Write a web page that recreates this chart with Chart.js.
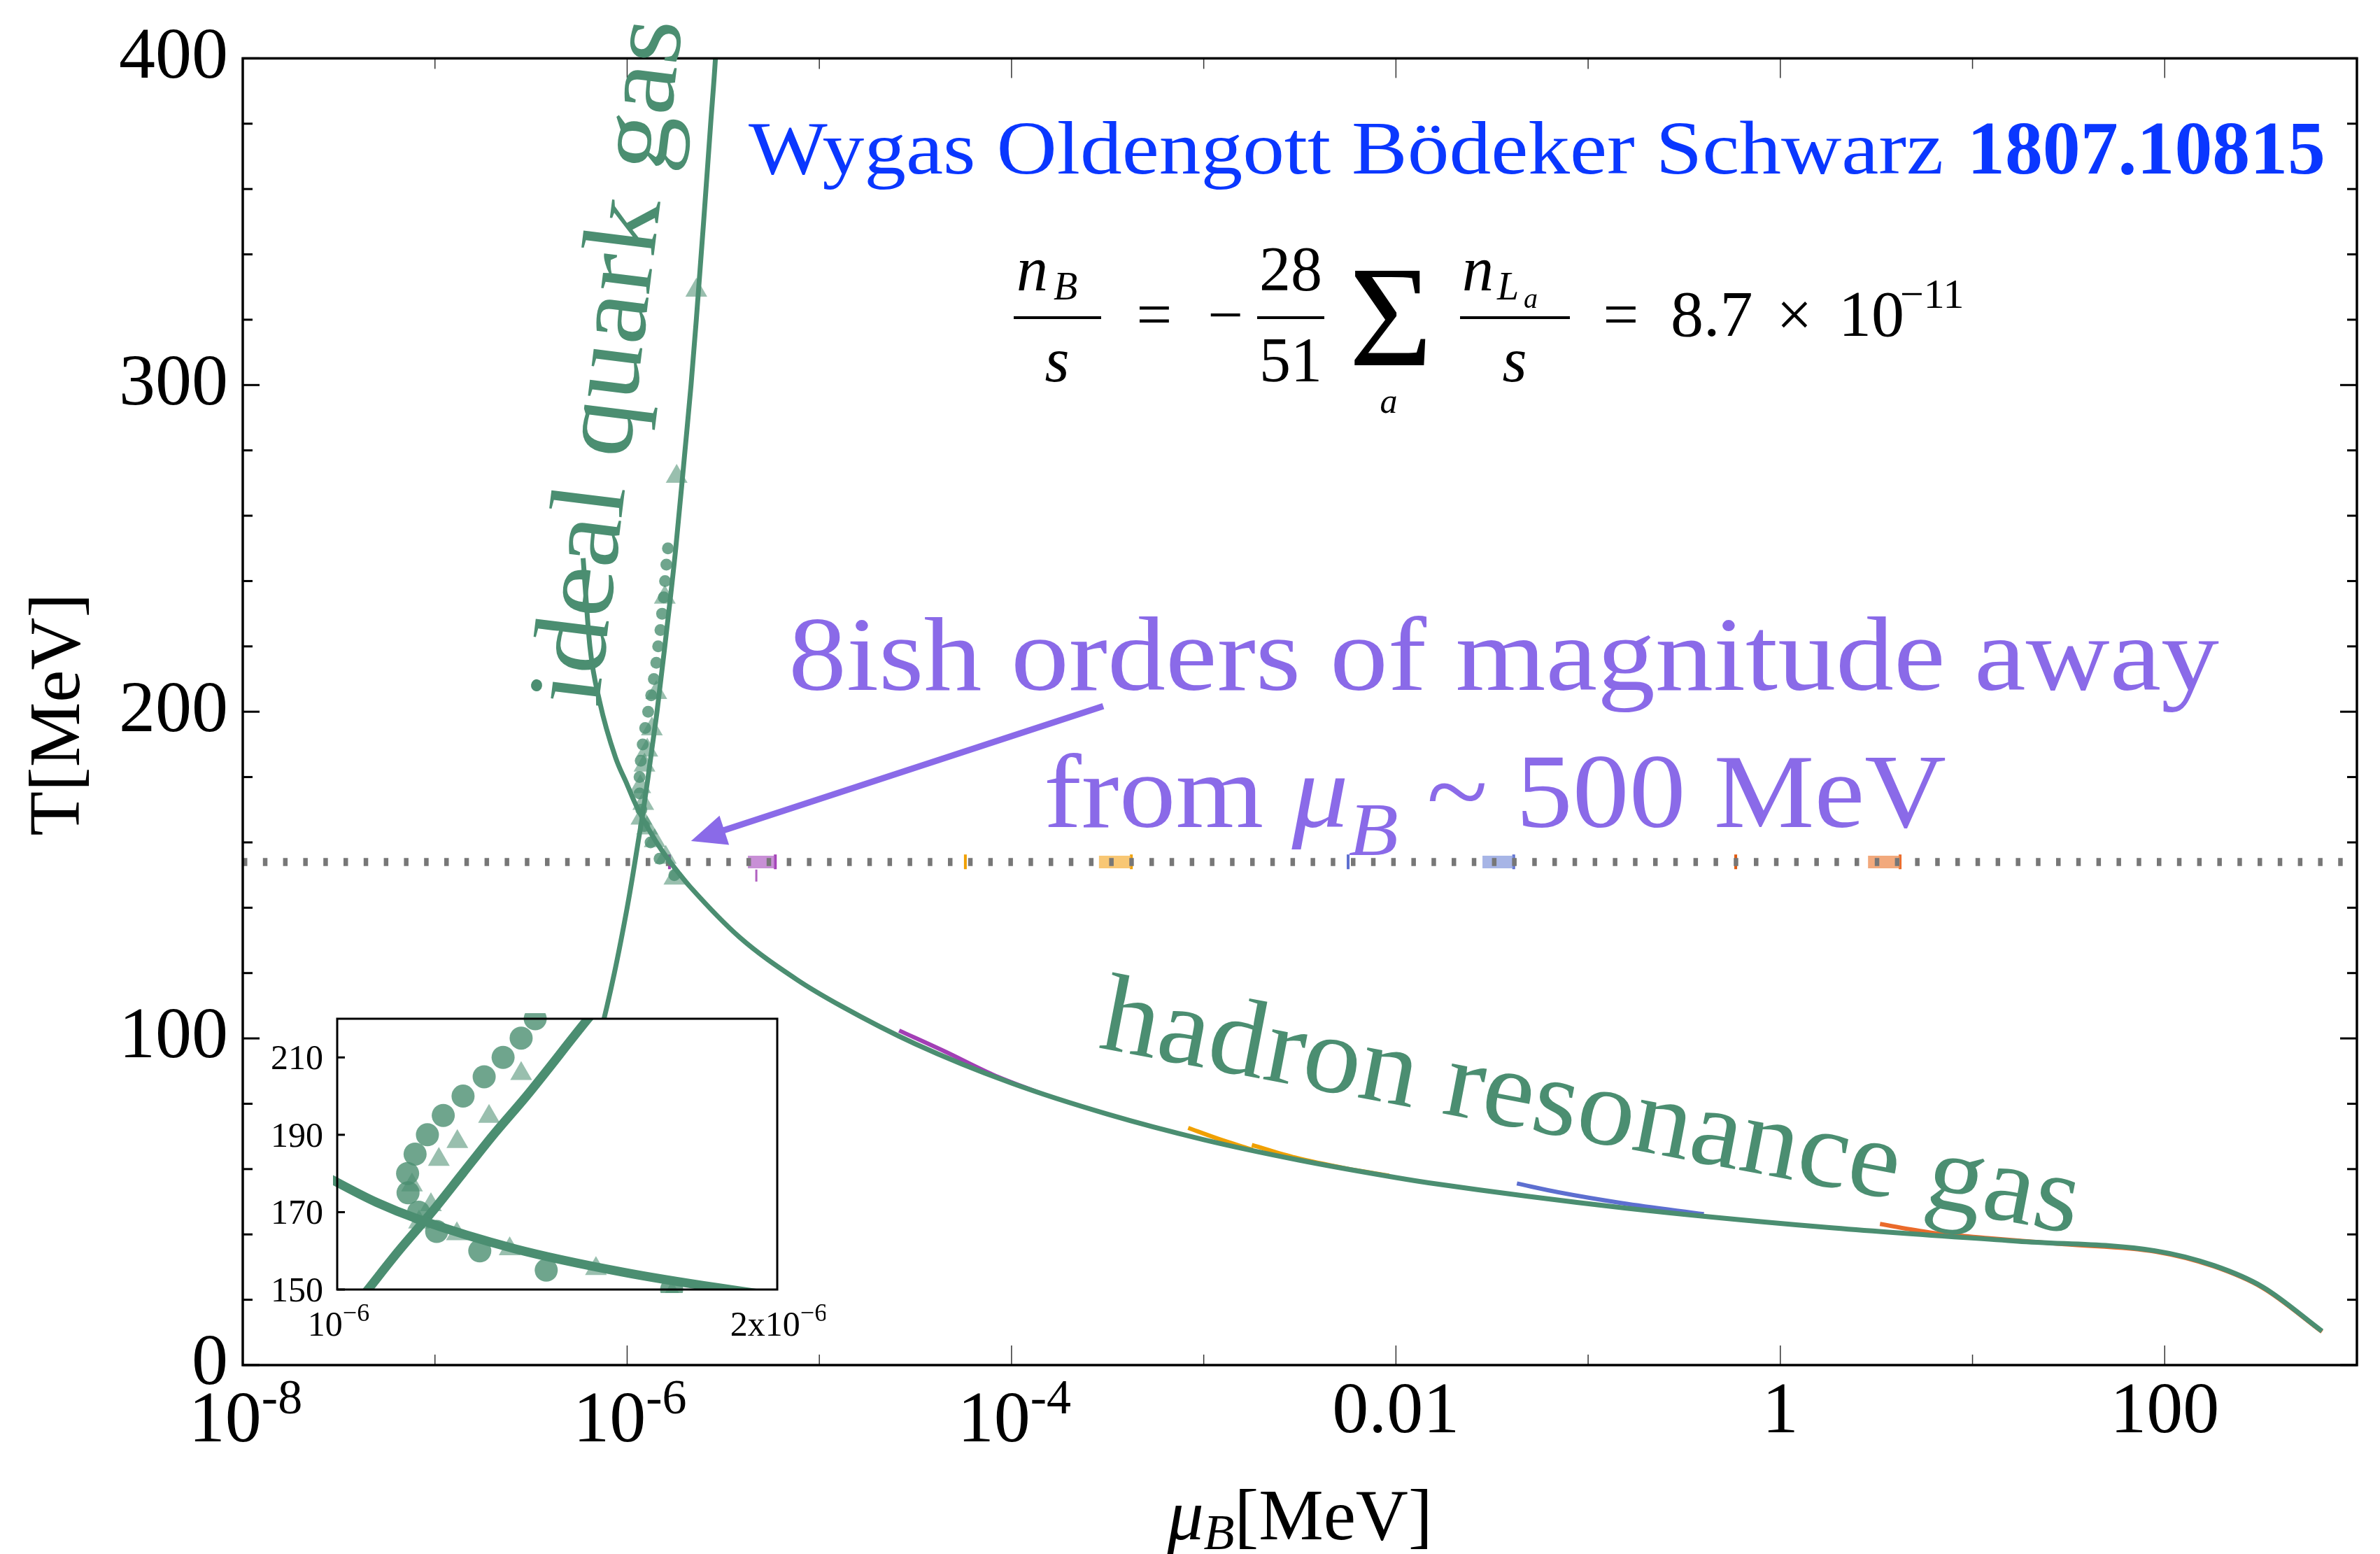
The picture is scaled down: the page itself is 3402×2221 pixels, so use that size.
<!DOCTYPE html>
<html>
<head>
<meta charset="utf-8">
<script src="https://cdn.jsdelivr.net/npm/chart.js@4.4.1/dist/chart.umd.min.js"></script>
<style>
  html, body { margin: 0; padding: 0; background: #fff; }
  #wrap { position: relative; width: 3402px; height: 2221px; overflow: hidden; }
  #main { position: absolute; left: 0; top: 0; }
  #inset { position: absolute; left: 380px; top: 1430px; }
</style>
</head>
<body>
<div id="wrap">
  <canvas id="main" width="3402" height="2221"></canvas>
  <canvas id="inset" width="800" height="520"></canvas>
</div>
<script>
// ---- hadron resonance gas trajectory (mu_B in MeV, T in MeV) ----
const hrgMu = [5.9e-7, 6.4e-7, 7.2e-7, 8.7e-7, 1.0e-6, 1.09e-6, 1.186e-6, 1.405e-6, 1.649e-6, 1.868e-6,
               2.12e-6, 3.84e-6, 7.64e-6, 1.3e-5, 3.16e-5, 1.0e-4, 3.16e-4, 1.0e-3, 3.16e-3, 1.0e-2,
               1.48e-2, 0.155, 1.63, 17.2, 89, 180, 324, 658];
const hrgT  = [247, 220, 203, 186, 177.7, 172.5, 168.1, 160.5, 154.5, 150.4,
               146.5, 131, 118, 109.9, 98.3, 86.3, 76.8, 69.0, 62.7, 57.4,
               55.8, 48.1, 42.3, 37.9, 35.0, 30.5, 23.9, 10.4];

// ---- ideal quark gas trajectory ----
const quarkT  = [60, 80, 100, 120, 140, 150, 160, 170, 180, 190, 200, 220, 250, 280, 300, 320, 350, 380, 400, 420];
const quarkMu = [4.3e-7, 5.72e-7, 7.15e-7, 8.58e-7, 1.0e-6, 1.07e-6, 1.14e-6, 1.215e-6, 1.285e-6, 1.355e-6,
                 1.43e-6, 1.57e-6, 1.79e-6, 2.0e-6, 2.15e-6, 2.29e-6, 2.5e-6, 2.72e-6, 2.88e-6, 3.0e-6];

// ---- lattice points ----
const circleT  = [150, 155, 160, 165, 170, 175, 180, 185, 190, 195, 200, 205, 210, 215, 220, 225, 230, 235, 240, 245, 250];
const circleMu = [1.76e-6, 1.475e-6, 1.324e-6, 1.226e-6, 1.185e-6, 1.161e-6, 1.160e-6, 1.177e-6, 1.205e-6, 1.241e-6,
                  1.286e-6, 1.334e-6, 1.377e-6, 1.418e-6, 1.450e-6, 1.49e-6, 1.52e-6, 1.55e-6, 1.575e-6, 1.60e-6, 1.63e-6];
const triangleT  = [149, 155.4, 160.5, 164.4, 167.4, 171.9, 177.0, 183.6, 188.2, 194.7, 205.8, 235, 272, 329];
const triangleMu = [1.761e-6, 1.588e-6, 1.392e-6, 1.272e-6, 1.186e-6, 1.213e-6, 1.170e-6, 1.231e-6, 1.273e-6,
                    1.345e-6, 1.418e-6, 1.57e-6, 1.81e-6, 2.29e-6];

// ---- crossover temperature ----
const tcValue = 154;
const muRange = [1e-8, 1e3];

// ---- lepton-asymmetry variants (short visible pieces) ----
const violetMu = [2.6e-5, 4.5e-5, 8e-5, 1.4e-4];
const violetT  = [102.4, 96.0, 88.9, 83.3];
const amberMu  = [8.3e-4, 1.2e-3, 1.8e-3];
const amberT   = [72.6, 69.2, 65.9];
const amber2Mu = [1.78e-3, 3.0e-3, 5.5e-3, 9.2e-3];
const amber2T  = [67.4, 63.5, 60.2, 58.0];
const blueMu   = [0.0426, 0.07, 0.15, 0.4];
const blueT    = [55.6, 52.9, 49.6, 46.2];
const redMu    = [3.3, 6, 12, 30, 90, 180, 324, 658];
const redT     = [43.2, 40.6, 38.9, 37.0, 34.7, 30.2, 23.6, 10.2];

// pieces sitting on the crossover line
const tcBlobLo = [4.25e-6, 2.85e-4, 0.0282, 2.86];
const tcBlobHi = [5.9e-6, 4.2e-4, 0.0410, 4.2];
const tcTickMu = [1.66e-6, 5.75e-5, 5.64e-3, 0.586];
const tcSpan   = [151.8, 156.3];

// ---- axes ----
const yTicks = [0, 100, 200, 300, 400];
const xTickVals = [1e-8, 1e-6, 1e-4, 0.01, 1, 100];
const xTickBase = ['10', '10', '10', '0.01', '1', '100'];
const xTickExp  = ['-8', '-6', '-4', '', '', ''];
const insetYTicks = [150, 170, 190, 210];
const insetXTicks = [1e-6, 2e-6];
const insetXBase = ['10', '2x10'];
const insetXExp  = ['\u22126', '\u22126'];

// ---- annotation arrow (data coordinates) ----
const arrowMu = [3.0e-4, 2.15e-6];
const arrowT  = [201.7, 160.4];

// ---------------------------------------------------------------
const SERIF = '"Liberation Serif", "Times New Roman", serif';
const GREEN = '#4b8e71';
const PURPLE = '#8a6ae8';
const BLUE = '#0a37ff';
const zip = (xs, ys) => xs.map((v, i) => ({ x: v, y: ys[i] }));

const blobLight = ['rgba(176,96,196,0.7)', 'rgba(245,180,70,0.75)', 'rgba(130,150,220,0.7)', 'rgba(238,140,80,0.75)'];
const blobDark  = ['#a23fb5', '#f0a000', '#5d6fd0', '#ea6a2a'];
const tickDark  = ['#a23fb5', '#f0a000', '#5d6fd0', '#e05a10'];

function lineSet(pts, color, width, order, extra) {
  return Object.assign({ data: pts, borderColor: color, borderWidth: width, pointRadius: 0,
    fill: false, order: order, borderCapStyle: 'butt' }, extra || {});
}

const mainSets = [
  lineSet(zip(hrgMu, hrgT), GREEN, 7, 1, { cubicInterpolationMode: 'monotone' }),
  lineSet(zip(quarkMu, quarkT), GREEN, 7, 1, { cubicInterpolationMode: 'monotone', clip: 0 }),
  { data: zip(circleMu, circleT), showLine: false, pointRadius: 8.5, pointStyle: 'circle',
    pointBackgroundColor: 'rgba(75,142,113,0.8)', pointBorderWidth: 0, order: 3 },
  { data: zip(triangleMu, triangleT), showLine: false, pointRadius: 18, pointStyle: 'triangle',
    pointBackgroundColor: 'rgba(75,142,113,0.57)', pointBorderWidth: 0, order: 4 },
  lineSet(zip(muRange, [tcValue, tcValue]), '#777777', 11.5, 5, { borderDash: [6.5, 22.3] }),
  lineSet(zip(violetMu, violetT), '#a23fb5', 6, 6, { cubicInterpolationMode: 'monotone' }),
  lineSet(zip(amberMu, amberT), '#f0a000', 6, 6, { cubicInterpolationMode: 'monotone' }),
  lineSet(zip(amber2Mu, amber2T), '#f0a000', 6, 6, { cubicInterpolationMode: 'monotone' }),
  lineSet(zip(blueMu, blueT), '#5d6fd0', 6, 6, { cubicInterpolationMode: 'monotone' }),
  lineSet(zip(redMu, redT), '#ea6a2a', 6, 6, { cubicInterpolationMode: 'monotone' }),
  lineSet(zip([4.7e-6, 4.7e-6], [151.7, 148]), '#b060c0', 3, 7)
];
tcBlobLo.forEach((lo, i) => {
  mainSets.push(lineSet(zip([lo, tcBlobHi[i]], [tcValue, tcValue]), blobLight[i], 18, 7));
  mainSets.push(lineSet(zip([tcBlobHi[i], tcBlobHi[i]], tcSpan), blobDark[i], 4, 7));
});
tcTickMu.forEach((m, i) => {
  mainSets.push(lineSet(zip([m, m], tcSpan), tickDark[i], 4, 7));
});

function seg(ctx, x1, y1, x2, y2) { ctx.beginPath(); ctx.moveTo(x1, y1); ctx.lineTo(x2, y2); ctx.stroke(); }

function fitText(ctx, text, font, x, y, width, angle) {
  ctx.save();
  ctx.font = font;
  const w = ctx.measureText(text).width;
  ctx.translate(x, y);
  ctx.rotate(angle || 0);
  ctx.scale(width / w, 1);
  ctx.textAlign = 'left';
  ctx.textBaseline = 'alphabetic';
  ctx.fillText(text, 0, 0);
  ctx.restore();
}

// runs: [text, font, dy]; drawn left to right, optionally squeezed to width
function drawRuns(ctx, runs, x, y, width, align) {
  ctx.save();
  ctx.textAlign = 'left';
  ctx.textBaseline = 'alphabetic';
  let total = 0;
  const ws = runs.map(r => { ctx.font = r[1]; const w = ctx.measureText(r[0]).width; total += w; return w; });
  const s = width ? width / total : 1;
  let x0 = x;
  if (align === 'center') x0 = x - total * s / 2;
  ctx.translate(x0, y);
  ctx.scale(s, 1);
  let cx = 0;
  runs.forEach((r, i) => { ctx.font = r[1]; ctx.fillText(r[0], cx, r[2] || 0); cx += ws[i]; });
  ctx.restore();
}

function ctext(ctx, text, font, x, y, align) {
  ctx.font = font;
  ctx.textAlign = align || 'left';
  ctx.textBaseline = 'alphabetic';
  ctx.fillText(text, x, y);
}

const mainDecor = {
  id: 'mainDecor',
  afterDatasetsDraw(chart) {
    const { ctx, chartArea: a, scales: { x, y } } = chart;
    ctx.save();

    // y ticks, both sides, pointing inward
    ctx.strokeStyle = '#000';
    ctx.lineWidth = 3;
    for (let v = 0; v <= 400; v += 20) {
      const p = y.getPixelForValue(v);
      const L = (v % 100 === 0) ? 24 : 14;
      seg(ctx, a.left, p, a.left + L, p);
      seg(ctx, a.right, p, a.right - L, p);
    }
    // x ticks every decade, bottom and top
    ctx.strokeStyle = '#333';
    ctx.lineWidth = 1.5;
    for (let e = -7; e <= 2; e++) {
      const p = x.getPixelForValue(Math.pow(10, e));
      const L = (e % 2 === 0) ? 28 : 15;
      seg(ctx, p, a.bottom, p, a.bottom - L);
      seg(ctx, p, a.top, p, a.top + L);
    }
    // frame
    ctx.strokeStyle = '#000';
    ctx.lineWidth = 3.5;
    ctx.strokeRect(a.left, a.top, a.right - a.left, a.bottom - a.top);

    // x tick labels
    ctx.fillStyle = '#000';
    xTickVals.forEach((v, i) => {
      const p = x.getPixelForValue(v);
      if (xTickExp[i]) {
        drawRuns(ctx, [[xTickBase[i], '104px ' + SERIF, 0], [xTickExp[i], '70px ' + SERIF, -40]], p + 4, 2060, 0, 'center');
      } else {
        ctext(ctx, xTickBase[i], '104px ' + SERIF, p, 2047, 'center');
      }
    });

    // axis titles
    drawRuns(ctx, [['\u03bc', 'italic 104px ' + SERIF, 0], ['B', 'italic 72px ' + SERIF, 14], ['[MeV]', '104px ' + SERIF, 0]],
      (a.left + a.right) / 2, 2200, 0, 'center');
    ctx.save();
    ctx.translate(113, (a.top + a.bottom) / 2 + 4);
    ctx.rotate(-Math.PI / 2);
    ctext(ctx, 'T[MeV]', '104px ' + SERIF, 0, 0, 'center');
    ctx.restore();

    // reference line
    ctx.fillStyle = BLUE;
    fitText(ctx, 'Wygas Oldengott B\u00f6deker Schwarz', '108px ' + SERIF, 1070, 248, 1708);
    fitText(ctx, '1807.10815', 'bold 108px ' + SERIF, 2812, 248, 512);

    // baryon asymmetry relation
    ctx.fillStyle = '#000';
    ctx.strokeStyle = '#000';
    const FI = 'italic 90px ' + SERIF, F = '90px ' + SERIF;
    const S = 'italic 56px ' + SERIF, SS = 'italic 40px ' + SERIF;
    ctx.lineWidth = 4;
    ctext(ctx, 'n', FI, 1453, 415);
    ctext(ctx, 'B', S, 1506, 428);
    seg(ctx, 1449, 454, 1574, 454);
    ctext(ctx, 's', FI, 1511, 545, 'center');
    ctext(ctx, '=', F, 1650, 480, 'center');
    ctext(ctx, '\u2212', F, 1752, 480, 'center');
    seg(ctx, 1797, 454, 1893, 454);
    ctext(ctx, '28', F, 1845, 415, 'center');
    ctext(ctx, '51', F, 1845, 545, 'center');
    ctext(ctx, '\u03a3', '205px ' + SERIF, 1988, 522, 'center');
    ctext(ctx, 'a', 'italic 50px ' + SERIF, 1985, 590, 'center');
    ctext(ctx, 'n', FI, 2090, 415);
    ctext(ctx, 'L', S, 2140, 428);
    ctext(ctx, 'a', SS, 2178, 440);
    seg(ctx, 2087, 454, 2244, 454);
    ctext(ctx, 's', FI, 2165, 545, 'center');
    ctext(ctx, '=', F, 2317, 480, 'center');
    ctext(ctx, '8.7', '94px ' + SERIF, 2388, 480);
    ctext(ctx, '\u00d7', F, 2565, 480, 'center');
    ctext(ctx, '10', '94px ' + SERIF, 2628, 480);
    ctext(ctx, '\u221211', '60px ' + SERIF, 2716, 440);

    // annotation
    ctx.fillStyle = PURPLE;
    fitText(ctx, '8ish orders of magnitude away', '150px ' + SERIF, 1127, 986, 2045);
    drawRuns(ctx, [['from ', '150px ' + SERIF, 0], ['\u03bc', 'italic 150px ' + SERIF, 0],
                   ['B', 'italic 108px ' + SERIF, 40], [' ~ 500 MeV', '150px ' + SERIF, 0]], 1492, 1182, 1290);

    // arrow
    const tx = x.getPixelForValue(arrowMu[0]), ty = y.getPixelForValue(arrowT[0]);
    const hx = x.getPixelForValue(arrowMu[1]), hy = y.getPixelForValue(arrowT[1]);
    const ang = Math.atan2(hy - ty, hx - tx);
    const headLen = 50, headHalf = 22;
    const bx = hx - headLen * Math.cos(ang), by = hy - headLen * Math.sin(ang);
    ctx.strokeStyle = PURPLE;
    ctx.lineWidth = 9;
    seg(ctx, tx, ty, bx + 5 * Math.cos(ang), by + 5 * Math.sin(ang));
    ctx.beginPath();
    ctx.moveTo(hx, hy);
    ctx.lineTo(bx + headHalf * Math.sin(ang), by - headHalf * Math.cos(ang));
    ctx.lineTo(bx - headHalf * Math.sin(ang), by + headHalf * Math.cos(ang));
    ctx.closePath();
    ctx.fill();

    // phase labels
    ctx.fillStyle = GREEN;
    fitText(ctx, 'ideal quark gas', '150px ' + SERIF, 855, 1012, 987, -83 * Math.PI / 180);
    fitText(ctx, 'hadron resonance gas', '158px ' + SERIF, 1568, 1497, 1421, 10.8 * Math.PI / 180);

    ctx.restore();
  }
};

new Chart(document.getElementById('main'), {
  type: 'line',
  data: { datasets: mainSets },
  options: {
    responsive: false, animation: false, devicePixelRatio: 1,
    layout: { padding: { left: 0, right: 33, top: 83, bottom: 0 } },
    plugins: { legend: { display: false }, tooltip: { enabled: false } },
    scales: {
      x: {
        type: 'logarithmic', min: muRange[0], max: muRange[1],
        ticks: { display: false }, grid: { display: false, drawTicks: false }, border: { display: false },
        afterFit(s) { s.height = 270; }
      },
      y: {
        type: 'linear', min: 0, max: 400,
        afterBuildTicks(s) { s.ticks = yTicks.map(v => ({ value: v })); },
        ticks: { font: { family: SERIF, size: 104 }, color: '#000', padding: 21, autoSkip: false },
        grid: { display: false, drawTicks: false }, border: { display: false },
        afterFit(s) { s.width = 347; }
      }
    }
  },
  plugins: [mainDecor]
});

// ---------------- inset: zoom on the crossover ----------------
const insetDecor = {
  id: 'insetDecor',
  beforeDatasetsDraw(chart) {
    const { ctx, chartArea: a } = chart;
    ctx.save();
    ctx.fillStyle = '#fff';
    ctx.fillRect(a.left, a.top, a.right - a.left, a.bottom - a.top);
    ctx.restore();
  },
  afterDatasetsDraw(chart) {
    const { ctx, chartArea: a, scales: { x, y } } = chart;
    ctx.save();
    ctx.strokeStyle = '#000';
    ctx.lineWidth = 3;
    insetYTicks.forEach(v => { const p = y.getPixelForValue(v); seg(ctx, a.left, p, a.left + 11, p); });
    ctx.strokeRect(a.left, a.top, a.right - a.left, a.bottom - a.top);
    ctx.fillStyle = '#000';
    ctx.font = '50px ' + SERIF;
    ctx.textAlign = 'right';
    ctx.textBaseline = 'alphabetic';
    insetYTicks.forEach(v => { ctx.fillText(String(v), a.left - 20, y.getPixelForValue(v) + 17); });
    insetXTicks.forEach((v, i) => {
      const p = x.getPixelForValue(v);
      drawRuns(ctx, [[insetXBase[i], '50px ' + SERIF, 0], [insetXExp[i], '36px ' + SERIF, -21]], p + 2, 479, 0, 'center');
    });
    ctx.restore();
  }
};

new Chart(document.getElementById('inset'), {
  type: 'line',
  data: {
    datasets: [
      lineSet(zip(hrgMu, hrgT), GREEN, 13, 1, { cubicInterpolationMode: 'monotone', clip: { left: 6, top: 0, right: 0, bottom: 0 } }),
      lineSet(zip(quarkMu, quarkT), GREEN, 13, 1, { cubicInterpolationMode: 'monotone', clip: 0 }),
      { data: zip(circleMu, circleT), showLine: false, pointRadius: 16.5, pointStyle: 'circle',
        pointBackgroundColor: 'rgba(75,142,113,0.8)', pointBorderWidth: 0, order: 2,
        clip: { left: 0, top: 8, right: 0, bottom: 5 } },
      { data: zip(triangleMu, triangleT), showLine: false, pointRadius: 18, pointStyle: 'triangle',
        pointBackgroundColor: 'rgba(75,142,113,0.57)', pointBorderWidth: 0, order: 3,
        clip: { left: 0, top: 0, right: 0, bottom: 5 } }
    ]
  },
  options: {
    responsive: false, animation: false, devicePixelRatio: 1,
    layout: { padding: { left: 0, right: 69, top: 26, bottom: 0 } },
    plugins: { legend: { display: false }, tooltip: { enabled: false } },
    scales: {
      x: {
        type: 'linear', min: 1e-6, max: 2e-6,
        ticks: { display: false }, grid: { display: false, drawTicks: false }, border: { display: false },
        afterFit(s) { s.height = 107; }
      },
      y: {
        type: 'linear', min: 150, max: 220,
        afterBuildTicks(s) { s.ticks = insetYTicks.map(v => ({ value: v })); },
        ticks: { display: false },
        grid: { display: false, drawTicks: false }, border: { display: false },
        afterFit(s) { s.width = 102; }
      }
    }
  },
  plugins: [insetDecor]
});
</script>
</body>
</html>
